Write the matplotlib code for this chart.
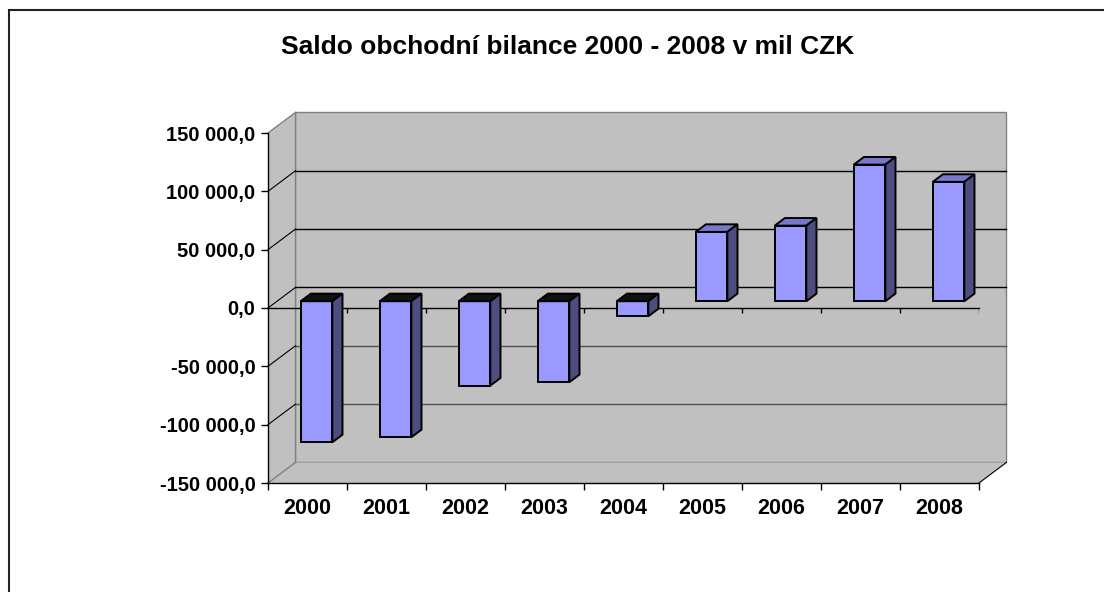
import matplotlib
matplotlib.use('Agg')
import matplotlib.pyplot as plt
from matplotlib.patches import Polygon, Rectangle
from matplotlib.ticker import FuncFormatter

years = ['2000', '2001', '2002', '2003', '2004', '2005', '2006', '2007', '2008']
saldo = [-120900, -116600, -72300, -69400, -12900, 59400, 64800, 117100, 102300]
y_ticks = [-150000, -100000, -50000, 0, 50000, 100000, 150000]
title = 'Saldo obchodní bilance 2000 - 2008 v mil CZK'

plt.rcParams['font.family'] = ['Liberation Sans', 'DejaVu Sans']
plt.rcParams['font.weight'] = 'bold'

fig = plt.figure(figsize=(11.04, 5.92), dpi=100)
ax = fig.add_axes([268/1104, 109/592, 711/1104, 350/592])
n = len(years)
ymin, ymax = y_ticks[0], y_ticks[-1]
ax.set_xlim(0, n)
ax.set_ylim(ymin, ymax)
ax.patch.set_visible(False)

# depth of the fake 3d box (data units)
DX, DY = 0.347, 17600
wall = '#c0c0c0'
edge = '#808080'

# back wall, side wall, floor
ax.add_patch(Rectangle((DX, ymin + DY), n, ymax - ymin, fc=wall, ec=edge, lw=1,
                       clip_on=False, zorder=0))
ax.add_patch(Polygon([(0, ymin), (DX, ymin + DY), (DX, ymax + DY), (0, ymax)],
                     closed=True, fc=wall, ec='none', clip_on=False, zorder=0))
ax.add_patch(Polygon([(0, ymin), (DX, ymin + DY), (n + DX, ymin + DY), (n, ymin)],
                     closed=True, fc=wall, ec='none', clip_on=False, zorder=0))
ax.plot([DX, DX], [ymin + DY, ymax + DY], color=edge, lw=1, zorder=0.5, clip_on=False)

# gridlines on back wall + diagonals on side wall
for t in y_ticks:
    if t in (ymin, ymax):
        ax.plot([0, DX], [t, t + DY], color=edge, lw=1, zorder=0.6, clip_on=False)
        continue
    c = 'black' if t >= 0 else '#505050'
    ax.plot([DX, n + DX], [t + DY, t + DY], color=c, lw=1, zorder=0.6, clip_on=False)
    ax.plot([0, DX], [t, t + DY], color='black', lw=0.8, zorder=0.6, clip_on=False)
ax.plot([n, n + DX], [ymin, ymin + DY], color='black', lw=0.8, zorder=0.6, clip_on=False)

# zero axis on front plane with its ticks
ax.plot([0, n], [0, 0], color='black', lw=1, zorder=1.5, clip_on=False)
ax.vlines(range(1, n + 1), -4300, 0, color='black', lw=1, zorder=1.5)

# bars
F0, FD, W = 0.33, 0.37, 0.4
front = '#9999ff'
side = '#4d4d80'
xs = [i + (1 - W) / 2 + F0 * DX for i in range(n)]
base = F0 * DY
ax.bar(xs, saldo, width=W, bottom=base, align='edge', color=front,
       edgecolor='black', lw=1.4, zorder=4)
for x0, v in zip(xs, saldo):
    top = base + max(v, 0)
    ax.add_patch(Polygon([(x0, top), (x0 + FD * DX, top + FD * DY),
                          (x0 + W + FD * DX, top + FD * DY), (x0 + W, top)],
                         closed=True, fc='#7777cc' if v > 0 else '#111111',
                         ec='black', lw=1.4, zorder=4))
    ax.add_patch(Polygon([(x0 + W, base), (x0 + W + FD * DX, base + FD * DY),
                          (x0 + W + FD * DX, base + v + FD * DY), (x0 + W, base + v)],
                         closed=True, fc=side, ec='black', lw=1.4, zorder=4))

# axes
for s in ['top', 'right']:
    ax.spines[s].set_visible(False)
for s in ['left', 'bottom']:
    ax.spines[s].set_color('black')
    ax.spines[s].set_linewidth(1)


def fmt(v, pos):
    s = f'{abs(v):,.1f}'.replace(',', ' ').replace('.', ',')
    return '-' + s if v < 0 else s


ax.set_yticks(y_ticks)
ax.yaxis.set_major_formatter(FuncFormatter(fmt))
ax.tick_params(axis='y', direction='out', length=5, width=1, pad=4, labelsize=14.5)

ax.set_xticks([i + 0.5 for i in range(n)])
ax.set_xticklabels(years)
ax.set_xticks(range(n + 1), minor=True)
ax.tick_params(axis='x', which='major', length=0, pad=11, labelsize=15.5)
ax.tick_params(axis='x', which='minor', direction='out', length=5, width=1)

fig.text(568/1104, 1 - 47/592, title, ha='center', va='center', fontsize=19, fontweight='bold')

# chart border
fig.add_artist(Rectangle((9/1104, -0.05), 1.1, 582/592 + 0.05, transform=fig.transFigure,
                         fill=False, ec='#222222', lw=1.5))

fig.savefig('out.png', dpi=100)
